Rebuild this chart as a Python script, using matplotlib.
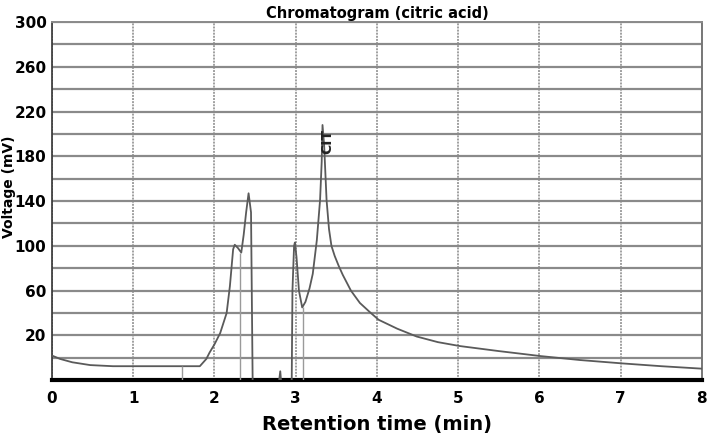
import matplotlib
matplotlib.use("Agg")
import matplotlib.pyplot as plt
import numpy as np

# retention time (min) and detector signal (mV)
time_min = [0.0, 0.1, 0.25, 0.47, 0.75, 1.0, 1.5, 1.82, 1.9, 1.94, 2.0, 2.07,
            2.15, 2.19, 2.23, 2.25, 2.29, 2.33, 2.36, 2.39, 2.42, 2.45, 2.47,
            2.5, 2.78, 2.81, 2.83, 2.95, 2.96, 2.98, 2.99, 3.01, 3.04, 3.08,
            3.12, 3.17, 3.21, 3.26, 3.3, 3.32, 3.33, 3.35, 3.38, 3.41, 3.44,
            3.48, 3.53, 3.58, 3.68, 3.79, 3.91, 4.02, 4.25, 4.49, 4.75, 5.02,
            5.5, 6.02, 6.5, 7.02, 7.5, 8.0]
voltage_mv = [2, -1, -4, -6.5, -7.5, -7.5, -7.5, -7.5, -1, 4.7, 12, 22,
              40, 64, 97, 101, 98, 94, 110, 130, 147, 130, -20,
              -30, -30, -12, -30, -30, 60, 100, 103, 90, 60, 45,
              50, 62, 75, 105, 141, 175, 208, 190, 141, 115, 100,
              91, 82, 74, 60, 49, 41, 34, 26, 19, 14, 10.5,
              6, 1.5, -2, -5, -7.5, -9.7]

# integration markers (thin grey drops to the baseline)
marker_time = [1.60, 2.32, 3.09]
marker_top = [-7.5, 94, 45]

peak_label = "CIT"
peak_time = 3.39
peak_value = 193

xticks = list(range(0, 9))
yticks = list(range(20, 301, 40))

fig = plt.figure(figsize=(7.09, 4.36), dpi=100)
ax = fig.add_axes([0.0733, 0.128, 0.9167, 0.8215])

ax.set_xlim(0, 8)
ax.set_ylim(-20, 300)

ax.set_xticks(xticks)
ax.set_yticks(yticks)
ax.set_yticks(np.arange(-20, 301, 20), minor=True)
ax.grid(axis="y", which="both", color="#8a8a8a", linewidth=1.6)
ax.grid(axis="x", which="major", color="#a0a0a0", linewidth=1.4, linestyle=(0, (1, 0.6)))
ax.set_axisbelow(True)

ax.plot(time_min, voltage_mv, color="#5a5a5a", linewidth=1.3, zorder=3)
ax.vlines(marker_time, -20, marker_top, color="#9a9a9a", linewidth=1.0, zorder=3)

ax.text(peak_time, peak_value, peak_label, rotation=90, ha="center", va="center",
        fontsize=10, fontweight="bold", color="#222222", zorder=4)

ax.tick_params(axis="both", which="both", length=0, labelsize=11)
ax.tick_params(axis="x", pad=8)
ax.tick_params(axis="y", pad=4)
for lab in ax.get_xticklabels() + ax.get_yticklabels():
    lab.set_fontweight("bold")

ax.spines["bottom"].set_linewidth(3)
ax.spines["bottom"].set_color("black")
ax.spines["left"].set_linewidth(1.2)
ax.spines["left"].set_color("#333333")
ax.spines["right"].set_color("#777777")
ax.spines["right"].set_linewidth(1.4)
ax.spines["top"].set_color("#8a8a8a")
ax.spines["top"].set_linewidth(1.4)

ax.set_title("Chromatogram (citric acid)", fontsize=10.5, fontweight="semibold", pad=3)
ax.set_xlabel("Retention time (min)", fontsize=14, fontweight="bold", labelpad=6)
ax.set_ylabel("Voltage (mV)", fontsize=10, fontweight="bold")
ax.yaxis.set_label_coords(-0.056, 0.54)

fig.savefig("out.png", dpi=100)
